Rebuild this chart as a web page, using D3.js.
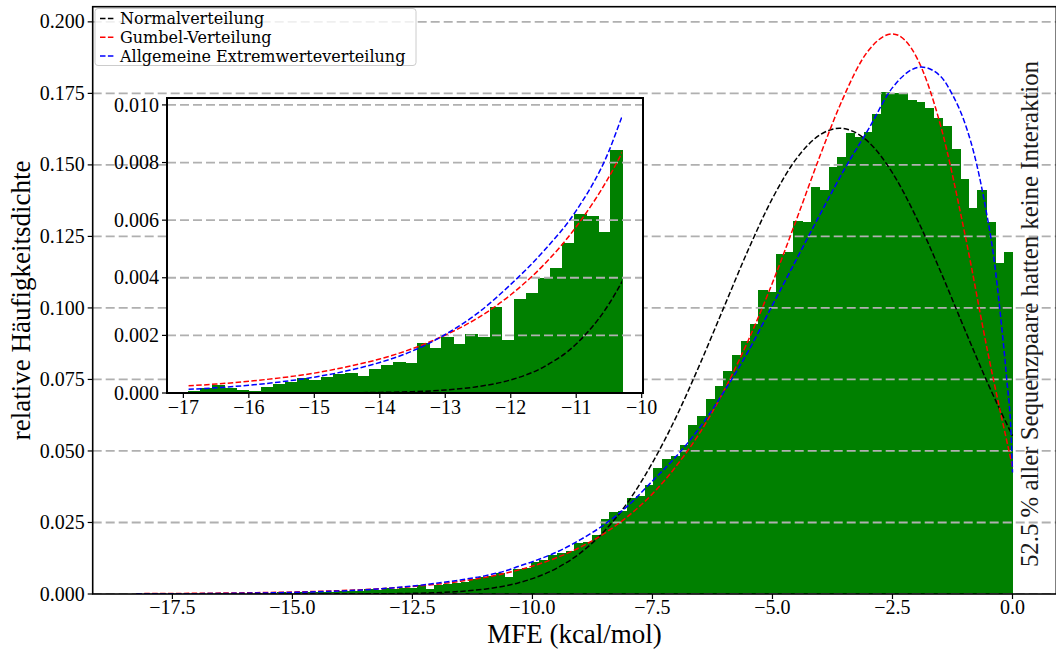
<!DOCTYPE html>
<html>
<head>
<meta charset="utf-8">
<script src="https://cdn.jsdelivr.net/npm/d3@7"></script>
<style>
  body { margin: 0; background: #fff; }
  text { font-family: "Liberation Serif", "Times New Roman", serif; }
  .legend text { font-family: "DejaVu Serif", serif; }
</style>
</head>
<body>
<svg id="chart" width="1056" height="650"></svg>
<script>
// histogram of MFE values (density), 100 bins from -18.25 to 0
var binStart = -18.25, binWidth = 0.1825;
var mainDensity = [
  0.00002, 0.00003, 0.00002, 0.00004, 0.00003, 0.00005, 0.00004, 0.00006, 0.00017, 0.00029,
  0.00017, 0.00009, 0.00006, 0.00021, 0.00030, 0.00038, 0.00053, 0.00046, 0.00055, 0.00067,
  0.00069, 0.00060, 0.00084, 0.00096, 0.00108, 0.00104, 0.00173, 0.00157, 0.00194, 0.00169,
  0.00206, 0.00194, 0.00298, 0.00185, 0.00325, 0.00347, 0.00400, 0.00434, 0.0052, 0.0058,
  0.0063, 0.0072, 0.0060, 0.0088, 0.0090, 0.0112, 0.0118, 0.0136, 0.0142, 0.0152,
  0.0180, 0.0182, 0.0206, 0.0261, 0.0286, 0.0290, 0.0335, 0.0342, 0.0381, 0.0439,
  0.0471, 0.0483, 0.0521, 0.0591, 0.0622, 0.0681, 0.0727, 0.0780, 0.0836, 0.0886,
  0.0944, 0.1063, 0.1057, 0.1187, 0.1196, 0.1305, 0.1301, 0.1423, 0.1413, 0.1491,
  0.1527, 0.1613, 0.1597, 0.1616, 0.1678, 0.1754, 0.1752, 0.1751, 0.1727, 0.1720,
  0.1699, 0.1665, 0.1636, 0.1556, 0.1452, 0.1351, 0.1413, 0.1301, 0.1158, 0.1196
];

// inset histogram (tail), 36 bins from -16.924 to -10.3
var insetStart = -16.924, insetWidth = 0.184;
var insetDensity = [
  0.00006, 0.00017, 0.00029, 0.00017, 0.00009, 0.00006, 0.00021, 0.00030, 0.00038, 0.00053,
  0.00046, 0.00055, 0.00067, 0.00069, 0.00060, 0.00084, 0.00096, 0.00108, 0.00104, 0.00173,
  0.00157, 0.00194, 0.00169, 0.00206, 0.00194, 0.00298, 0.00185, 0.00325, 0.00347, 0.00400,
  0.00434, 0.00520, 0.00620, 0.00613, 0.00558, 0.00842
];

// fitted curves
var curveX = [-18.25, -17, -16.5, -16, -15.5, -15, -14.5, -14, -13.5, -13, -12.5, -12, -11.5, -11,
  -10.5, -10.3, -10, -9.5, -9, -8.5, -8, -7.5, -7, -6.5, -6, -5.5, -5, -4.5, -4, -3.6, -3, -2.5,
  -2, -1.5, -1, -0.5, 0];
var normalY = [0, 0, 0, 0, 0.000001, 0.000003, 0.000008, 0.00002, 0.000046, 0.000103, 0.000222,
  0.000455, 0.0009, 0.0017, 0.00309, 0.00387, 0.00538, 0.00896, 0.01435, 0.0220, 0.0324, 0.0459,
  0.0621, 0.0808, 0.1007, 0.1205, 0.1383, 0.1522, 0.1606, 0.1628, 0.1580, 0.1472, 0.1315, 0.1128,
  0.0927, 0.0731, 0.0553];
var gumbelY = [0.00012, 0.00024, 0.00031, 0.00041, 0.00053, 0.00069, 0.00091, 0.00118, 0.00154,
  0.00201, 0.00261, 0.00341, 0.00444, 0.00577, 0.0075, 0.00834, 0.00975, 0.01266, 0.01638, 0.0212,
  0.0273, 0.0350, 0.0448, 0.0567, 0.0714, 0.0888, 0.1088, 0.1309, 0.1536, 0.1706, 0.1900, 0.1958,
  0.1877, 0.1639, 0.1265, 0.0833, 0.0445];
var gevX = [-18.25, -17, -16.5, -16, -15.5, -15, -14.5, -14, -13.5, -13, -12.5, -12, -11.5, -11,
  -10.5, -10.3, -10, -9.5, -9, -8.5, -8, -7.5, -7, -6.5, -6, -5.5, -5, -4.5, -4, -3.5, -3, -2.5,
  -1.9, -1.5, -1.25, -1, -0.75, -0.55, -0.4, -0.26, -0.12, -0.03, 0];
var gevY = [0.00005, 0.00012, 0.00018, 0.00027, 0.00039, 0.00055, 0.00077, 0.00106, 0.00146,
  0.00203, 0.00278, 0.00377, 0.00492, 0.00633, 0.0084, 0.0096, 0.0113, 0.0146, 0.0190, 0.0243,
  0.0310, 0.0395, 0.0482, 0.0585, 0.0710, 0.0850, 0.1010, 0.1170, 0.1330, 0.1485, 0.1625, 0.1770,
  0.1842, 0.1810, 0.1745, 0.1650, 0.1505, 0.1340, 0.1190, 0.0990, 0.0750, 0.0560, 0.0425];

var xTicks = [-17.5, -15, -12.5, -10, -7.5, -5, -2.5, 0];
var yTicks = [0, 0.025, 0.05, 0.075, 0.1, 0.125, 0.15, 0.175, 0.2];
var insetXTicks = [-17, -16, -15, -14, -13, -12, -11, -10];
var insetYTicks = [0, 0.002, 0.004, 0.006, 0.008, 0.010];

var legendLabels = ["Normalverteilung", "Gumbel-Verteilung", "Allgemeine Extremwerteverteilung"];
var curveColors = ["#000000", "#ff0000", "#0000ff"];
var noteText = "52.5 % aller Sequenzpaare hatten keine Interaktion";

var svg = d3.select("#chart");
var minus = function (s) { return s.replace("-", "\u2212"); };

// main axes
var box = {left: 92.7, right: 1056.3, top: 6.7, bottom: 594};
var x = d3.scaleLinear().domain([-19.16, 0.9125]).range([box.left, box.right]);
var y = d3.scaleLinear().domain([0, 0.2053]).range([box.bottom, box.top]);

svg.append("defs").append("clipPath").attr("id", "mainClip")
  .append("rect").attr("x", box.left).attr("y", box.top)
  .attr("width", box.right - box.left).attr("height", box.bottom - box.top);

var main = svg.append("g").attr("clip-path", "url(#mainClip)");

main.selectAll(".bar").data(mainDensity).enter().append("rect")
  .attr("class", "bar")
  .attr("x", function (d, i) { return x(binStart + i * binWidth); })
  .attr("width", function (d, i) { return x(binStart + (i + 1) * binWidth) - x(binStart + i * binWidth) + 0.6; })
  .attr("y", function (d) { return y(d); })
  .attr("height", function (d) { return y(0) - y(d); })
  .attr("fill", "#008000").attr("shape-rendering", "crispEdges");

main.selectAll(".grid").data(yTicks).enter().append("line")
  .attr("x1", box.left).attr("x2", box.right)
  .attr("y1", function (d) { return y(d); }).attr("y2", function (d) { return y(d); })
  .attr("stroke", "#b0b0b0").attr("stroke-width", 1.8).attr("stroke-dasharray", "9,4");

function drawCurves(g, xs, ys) {
  var series = [
    {xs: curveX, ys: normalY, c: curveColors[0]},
    {xs: curveX, ys: gumbelY, c: curveColors[1]},
    {xs: gevX, ys: gevY, c: curveColors[2]}
  ];
  series.forEach(function (s) {
    var pts = s.xs.map(function (v, i) { return [v, s.ys[i]]; });
    g.append("path").datum(pts)
      .attr("d", d3.line().x(function (d) { return xs(d[0]); }).y(function (d) { return ys(d[1]); })
        .curve(d3.curveMonotoneX))
      .attr("fill", "none").attr("stroke", s.c).attr("stroke-width", 1.5)
      .attr("stroke-dasharray", "5.5,2.4");
  });
}
drawCurves(main, x, y);

// main axes ticks and spines
var xAxis = svg.append("g");
xTicks.forEach(function (t) {
  xAxis.append("line").attr("x1", x(t)).attr("x2", x(t)).attr("y1", box.bottom).attr("y2", box.bottom + 5)
    .attr("stroke", "#000").attr("stroke-width", 1.2);
  xAxis.append("text").attr("x", x(t)).attr("y", box.bottom + 20).attr("text-anchor", "middle")
    .attr("font-size", 20).text(minus(d3.format(".1f")(t)));
});
var yAxis = svg.append("g");
yTicks.forEach(function (t) {
  yAxis.append("line").attr("x1", box.left - 5).attr("x2", box.left).attr("y1", y(t)).attr("y2", y(t))
    .attr("stroke", "#000").attr("stroke-width", 1.2);
  yAxis.append("text").attr("x", box.left - 8).attr("y", y(t)).attr("dy", "0.33em").attr("text-anchor", "end")
    .attr("font-size", 20).text(d3.format(".3f")(t));
});
svg.append("rect").attr("x", box.left).attr("y", box.top)
  .attr("width", box.right - box.left).attr("height", box.bottom - box.top)
  .attr("fill", "none").attr("stroke", "#000").attr("stroke-width", 1.6);

// inset
var ib = {left: 167, right: 643, top: 98, bottom: 393};
var xi = d3.scaleLinear().domain([-17.25, -9.98]).range([ib.left, ib.right]);
var yi = d3.scaleLinear().domain([0, 0.01024]).range([ib.bottom, ib.top]);

svg.select("defs").append("clipPath").attr("id", "insetClip")
  .append("rect").attr("x", xi(insetStart)).attr("y", ib.top)
  .attr("width", xi(insetStart + insetDensity.length * insetWidth) - xi(insetStart)).attr("height", ib.bottom - ib.top);

var inset = svg.append("g");
inset.append("rect").attr("x", ib.left).attr("y", ib.top)
  .attr("width", ib.right - ib.left).attr("height", ib.bottom - ib.top).attr("fill", "#fff");

inset.selectAll(".ibar").data(insetDensity).enter().append("rect")
  .attr("class", "ibar")
  .attr("x", function (d, i) { return xi(insetStart + i * insetWidth); })
  .attr("width", function (d, i) { return xi(insetStart + (i + 1) * insetWidth) - xi(insetStart + i * insetWidth) + 0.6; })
  .attr("y", function (d) { return yi(d); })
  .attr("height", function (d) { return yi(0) - yi(d); })
  .attr("fill", "#008000").attr("shape-rendering", "crispEdges");

inset.selectAll(".igrid").data(insetYTicks).enter().append("line")
  .attr("x1", ib.left).attr("x2", ib.right)
  .attr("y1", function (d) { return yi(d); }).attr("y2", function (d) { return yi(d); })
  .attr("stroke", "#b0b0b0").attr("stroke-width", 1.8).attr("stroke-dasharray", "9,4");

drawCurves(inset.append("g").attr("clip-path", "url(#insetClip)"), xi, yi);

insetXTicks.forEach(function (t) {
  inset.append("line").attr("x1", xi(t)).attr("x2", xi(t)).attr("y1", ib.bottom).attr("y2", ib.bottom + 5)
    .attr("stroke", "#000").attr("stroke-width", 1.2);
  inset.append("text").attr("x", xi(t)).attr("y", ib.bottom + 21).attr("text-anchor", "middle")
    .attr("font-size", 20).text(minus(String(t)));
});
insetYTicks.forEach(function (t) {
  inset.append("line").attr("x1", ib.left - 5).attr("x2", ib.left).attr("y1", yi(t)).attr("y2", yi(t))
    .attr("stroke", "#000").attr("stroke-width", 1.2);
  inset.append("text").attr("x", ib.left - 8).attr("y", yi(t)).attr("dy", "0.33em").attr("text-anchor", "end")
    .attr("font-size", 20).text(d3.format(".3f")(t));
});
inset.append("rect").attr("x", ib.left).attr("y", ib.top)
  .attr("width", ib.right - ib.left).attr("height", ib.bottom - ib.top)
  .attr("fill", "none").attr("stroke", "#000").attr("stroke-width", 2);

// legend
var lg = svg.append("g").attr("class", "legend").attr("transform", "translate(95,8.5)");
lg.append("rect").attr("width", 321).attr("height", 57).attr("rx", 3)
  .attr("fill", "#fff").attr("fill-opacity", 0.8).attr("stroke", "#cccccc").attr("stroke-width", 1);
legendLabels.forEach(function (name, i) {
  var cy = 10 + i * 18.8;
  lg.append("line").attr("x1", 5).attr("x2", 20).attr("y1", cy).attr("y2", cy)
    .attr("stroke", curveColors[i]).attr("stroke-width", 1.5).attr("stroke-dasharray", "5.5,2.4");
  lg.append("text").attr("x", 25).attr("y", cy).attr("dy", "0.36em")
    .attr("font-size", 16).text(name);
});

// axis labels and note
svg.append("text").attr("x", (box.left + box.right) / 2).attr("y", 643).attr("text-anchor", "middle")
  .attr("font-size", 27).text("MFE (kcal/mol)");
svg.append("text").attr("transform", "translate(30," + ((box.top + box.bottom) / 2) + ") rotate(-90)")
  .attr("text-anchor", "middle").attr("font-size", 27).text("relative Häufigkeitsdichte");
svg.append("text").attr("transform", "translate(1038,314) rotate(-90)")
  .attr("text-anchor", "middle").attr("font-size", 24.8).attr("fill", "#1a1a1a").text(noteText);
</script>
</body>
</html>
